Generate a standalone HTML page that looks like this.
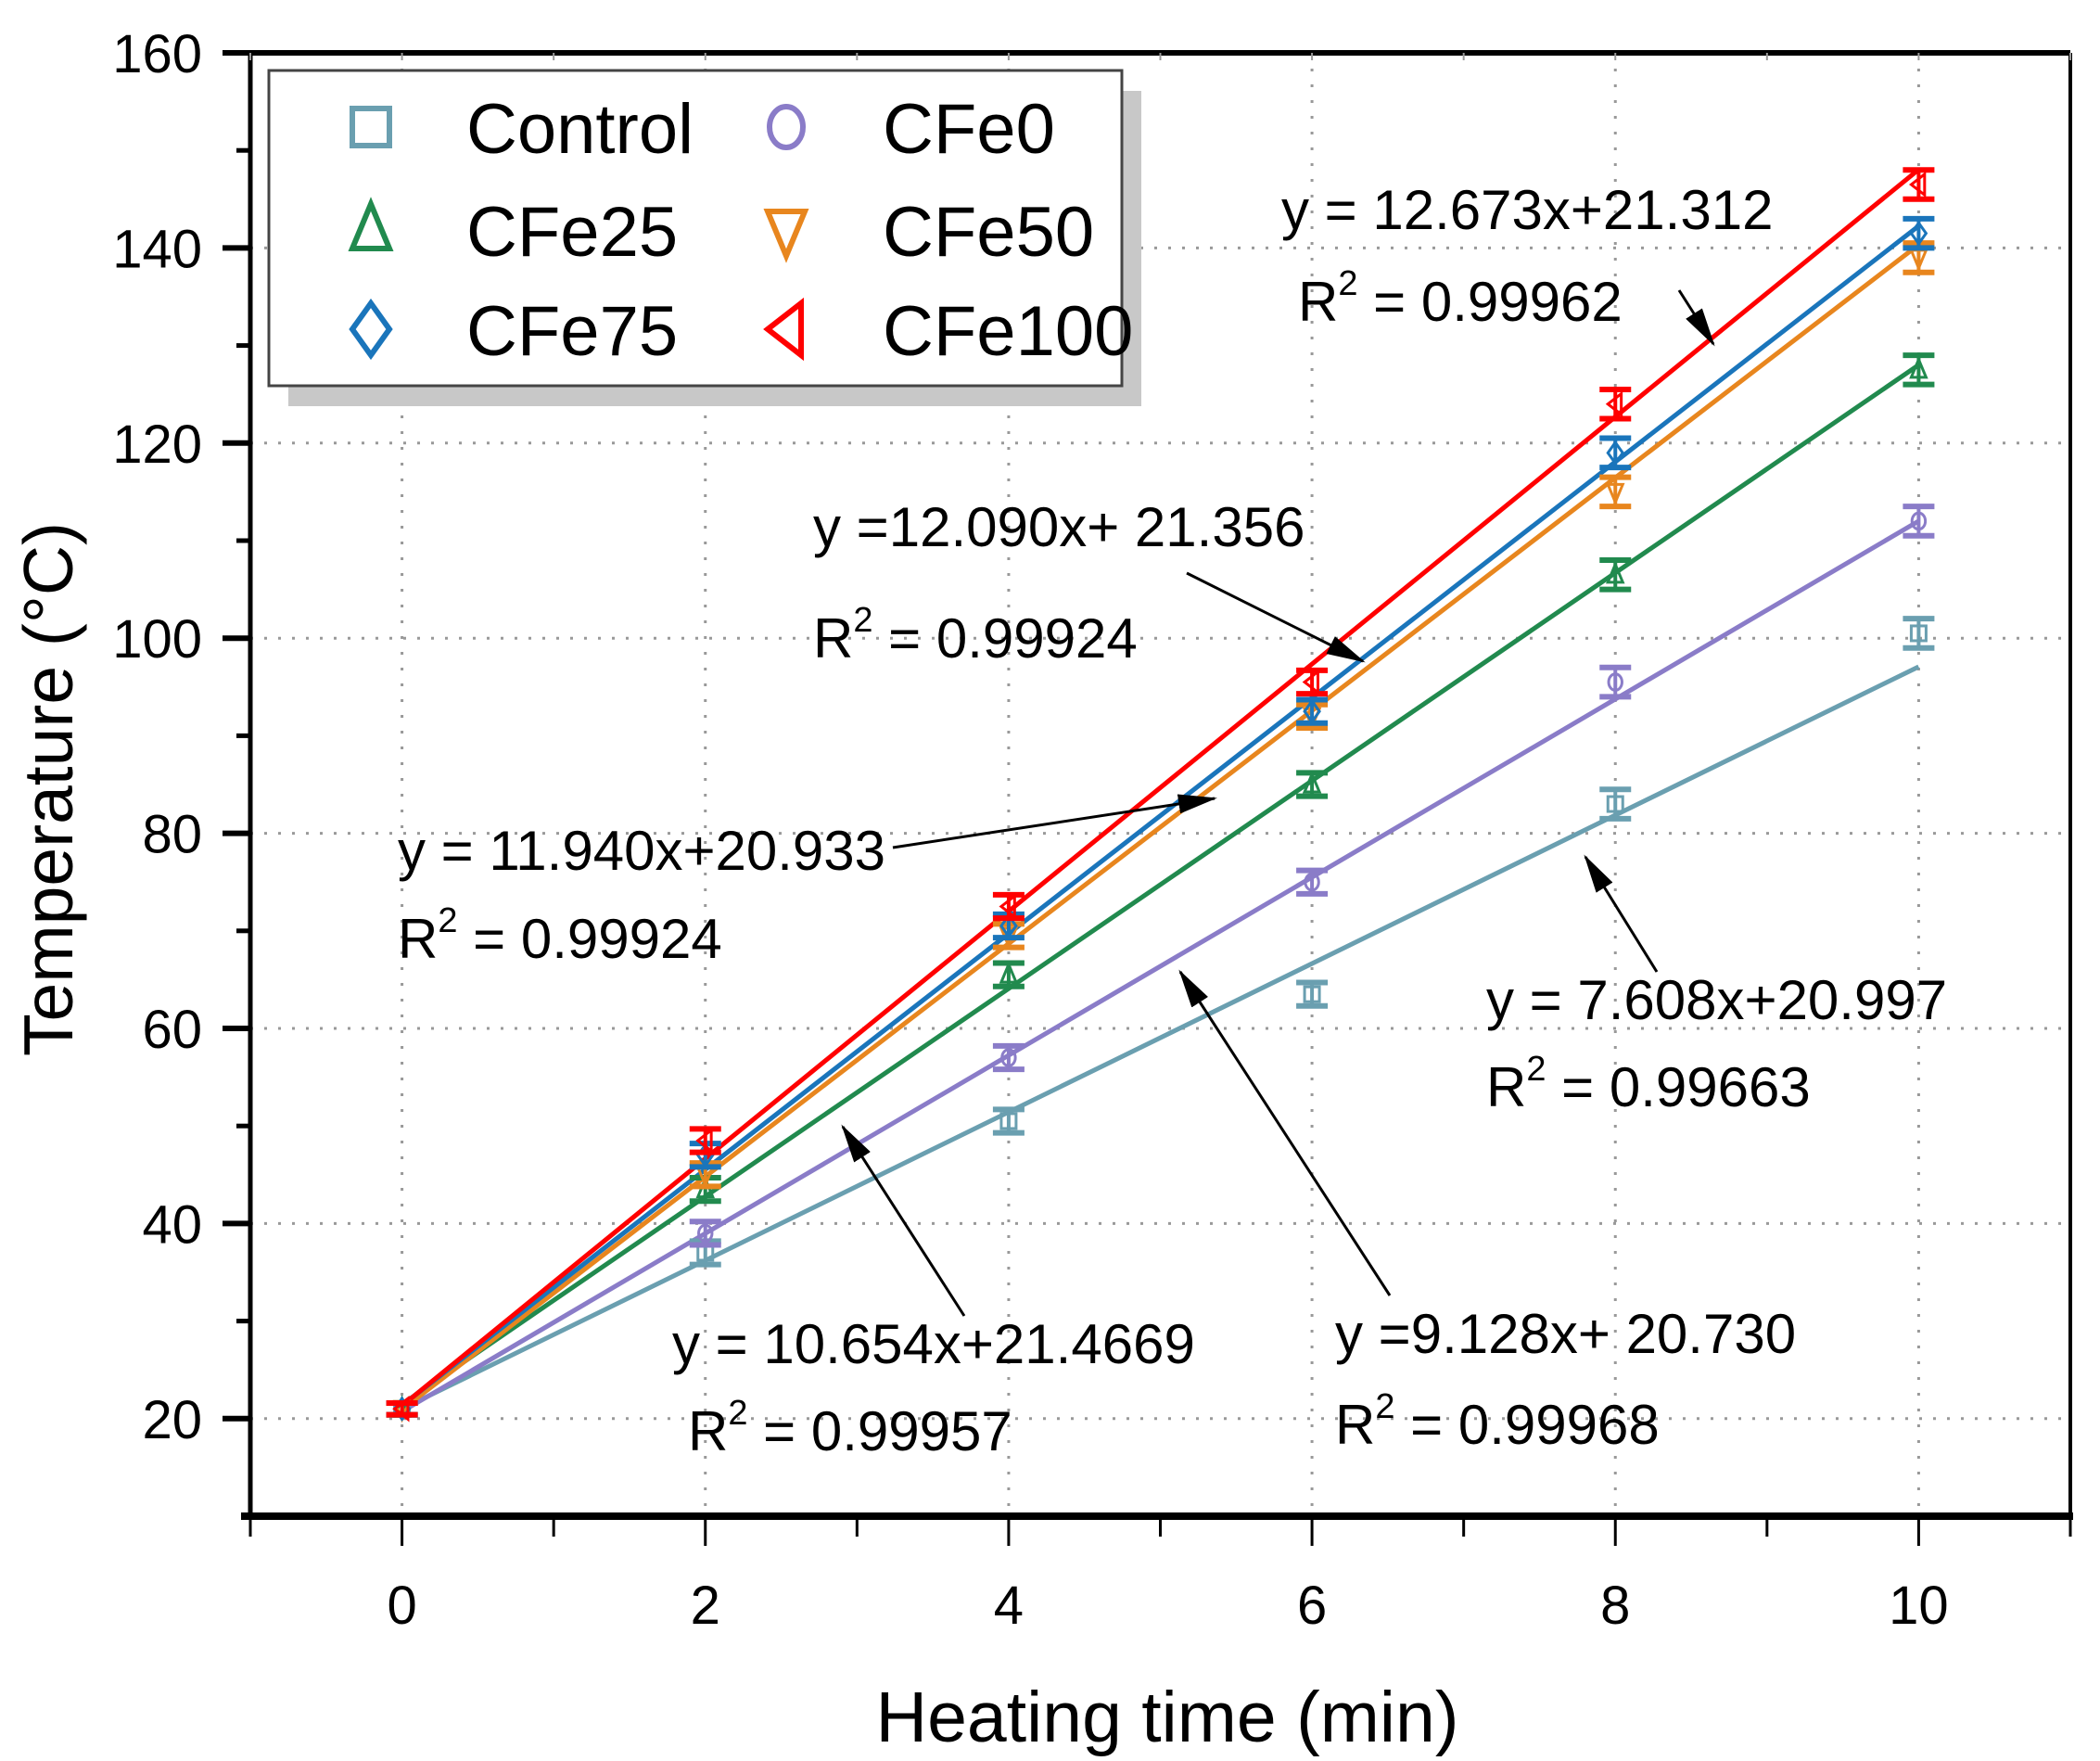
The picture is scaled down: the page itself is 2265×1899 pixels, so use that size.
<!DOCTYPE html>
<html><head><meta charset="utf-8"><style>
html,body{margin:0;padding:0;background:#fff;}
svg{display:block;font-family:"Liberation Sans",sans-serif;}
</style></head><body>
<svg id="chart" width="2265" height="1899" viewBox="0 0 2265 1899" xmlns="http://www.w3.org/2000/svg">
<defs><marker id="ah" markerWidth="14" markerHeight="7" refX="13" refY="3.5" orient="auto" markerUnits="strokeWidth"><path d="M0,0 L14,3.5 L0,7 z" fill="#000"/></marker></defs>
<g id="grid"></g>
<g id="fits"></g>
<g id="pts"></g>
<g id="axes"></g>
<g id="ann"></g>
<g id="legend"></g>
<text x="0" y="0" transform="translate(78,851) rotate(-90)" font-size="75" text-anchor="middle">Temperature (°C)</text>
<text x="1259" y="1878" font-size="77" text-anchor="middle">Heating time (min)</text>
</svg>
<script>
const times=[0,2,4,6,8,10];
const seriesNames=["Control","CFe0","CFe25","CFe50","CFe75","CFe100"];
const control=[21,37,50.5,63.5,83,100.5];
const cfe0=[21,39,57,75,95.5,112];
const cfe25=[21,43.5,65.5,85,106.5,127.5];
const cfe50=[21,45,69.5,92,115,139];
const cfe75=[21,47,70.5,92.5,119,141.5];
const cfe100=[21,48.5,72.5,95.5,124,146.5];
const errs=[0.6,1.2,1.2,1.2,1.5,1.5];
const slopes=[7.608,9.128,10.654,11.940,12.090,12.673];
const intercepts=[20.997,20.730,21.4669,20.933,21.356,21.312];
const xTicks=[0,2,4,6,8,10];
const yTicks=[20,40,60,80,100,120,140,160];
const colors=["#6a9fb0","#8a7cc8","#218a4e","#e8861e","#1a75bb","#ff0000"];
const allVals=[control,cfe0,cfe25,cfe50,cfe75,cfe100];
const NS="http://www.w3.org/2000/svg";
const L=270,R=2233,T=57,B=1635,xmin=-1,xmax=11,ymin=10,ymax=160;
const X=v=>L+(v-xmin)/(xmax-xmin)*(R-L);
const Y=v=>B-(v-ymin)/(ymax-ymin)*(B-T);
function mk(p,tag,a){const e=document.createElementNS(NS,tag);for(const k in a)e.setAttribute(k,a[k]);p.appendChild(e);return e;}
const grid=document.getElementById('grid');
xTicks.forEach(t=>{const l=mk(grid,'line',{x1:X(t),x2:X(t),y1:T,y2:B,stroke:'#999','stroke-width':3,'stroke-dasharray':'3 14'});

});
yTicks.forEach(t=>{const l=mk(grid,'line',{x1:L,x2:R,y1:Y(t),y2:Y(t),stroke:'#999','stroke-width':3,'stroke-dasharray':'3 12'});

});
const fits=document.getElementById('fits');
slopes.forEach((s,i)=>{const l=mk(fits,'line',{x1:X(0),y1:Y(intercepts[i]),x2:X(10),y2:Y(intercepts[i]+s*10),stroke:colors[i],'stroke-width':5});

});
function marker(p,i,cx,cy,s){const c=colors[i],a={fill:'none',stroke:c,'stroke-width':3};
if(i==0)return mk(p,'rect',Object.assign({x:cx-s,y:cy-s,width:2*s,height:2*s},a));
if(i==1)return mk(p,'ellipse',Object.assign({cx:cx,cy:cy,rx:s*0.9,ry:s*1.1},a));
if(i==2)return mk(p,'polygon',Object.assign({points:`${cx},${cy-1.4*s} ${cx-s},${cy+s} ${cx+s},${cy+s}`},a));
if(i==3)return mk(p,'polygon',Object.assign({points:`${cx-s},${cy-s} ${cx+s},${cy-s} ${cx},${cy+1.4*s}`},a));
if(i==4)return mk(p,'polygon',Object.assign({points:`${cx},${cy-1.4*s} ${cx+s},${cy} ${cx},${cy+1.4*s} ${cx-s},${cy}`},a));
return mk(p,'polygon',Object.assign({points:`${cx-s},${cy} ${cx+s*0.8},${cy-1.4*s} ${cx+s*0.8},${cy+1.4*s}`},a));}
const pts=document.getElementById('pts');
allVals.forEach((vals,i)=>{vals.forEach((v,j)=>{const g=mk(pts,'g',{});


const x=X(times[j]),y1=Y(v+errs[j]),y2=Y(v-errs[j]);
mk(g,'line',{x1:x,x2:x,y1:y1,y2:y2,stroke:colors[i],'stroke-width':4});
mk(g,'line',{x1:x-17,x2:x+17,y1:y1,y2:y1,stroke:colors[i],'stroke-width':6});
mk(g,'line',{x1:x-17,x2:x+17,y1:y2,y2:y2,stroke:colors[i],'stroke-width':6});
marker(g,i,x,Y(v),8);});});
const ax=document.getElementById('axes');
mk(ax,'line',{x1:240,x2:R,y1:T,y2:T,stroke:'#000','stroke-width':6});
mk(ax,'line',{x1:260,x2:R+3,y1:B,y2:B,stroke:'#000','stroke-width':8});
mk(ax,'line',{x1:L,x2:L,y1:T,y2:B,stroke:'#000','stroke-width':5});
mk(ax,'line',{x1:R,x2:R,y1:T,y2:B,stroke:'#000','stroke-width':4});
yTicks.forEach(t=>{mk(ax,'line',{x1:240,x2:L,y1:Y(t),y2:Y(t),stroke:'#000','stroke-width':6});
const tx=mk(ax,'text',{x:218,y:Y(t)+21,'font-size':58,'text-anchor':'end'});tx.textContent=t;

});
for(let t=30;t<=150;t+=20){mk(ax,'line',{x1:255,x2:L,y1:Y(t),y2:Y(t),stroke:'#000','stroke-width':5});}
for(let t=-1;t<=11;t++){const maj=t%2==0;mk(ax,'line',{x1:X(t),x2:X(t),y1:B,y2:B+(maj?32:22),stroke:'#000','stroke-width':3});
mk(ax,'line',{x1:X(t),x2:X(t),y1:T,y2:T+8,stroke:'#999','stroke-width':2});}
xTicks.forEach(t=>{const tx=mk(ax,'text',{x:X(t),y:1751,'font-size':58,'text-anchor':'middle'});tx.textContent=t;

});
const ann=document.getElementById('ann');
const eqs=[["y = 12.673x+21.312","0.99962",1382,247,1400,346,1811,313,1848,371],
["y =12.090x+ 21.356","0.99924",877,589,877,709,1280,618,1470,713],
["y = 11.940x+20.933","0.99924",429,938,429,1033,963,914,1310,861],
["y = 7.608x+20.997","0.99663",1603,1099,1603,1193,1787,1048,1710,924],
["y = 10.654x+21.4669","0.99957",725,1470,742,1564,1040,1419,909,1215],
["y =9.128x+ 20.730","0.99968",1440,1459,1440,1557,1499,1397,1273,1048]];
eqs.forEach(e=>{const g=mk(ann,'g',{});


const t1=mk(g,'text',{x:e[2],y:e[3],'font-size':60});t1.textContent=e[0];
const t2=mk(g,'text',{x:e[4],y:e[5],'font-size':60});t2.innerHTML='R<tspan dy="-28" font-size="38">2</tspan><tspan dy="28"> = '+e[1]+'</tspan>';
mk(g,'line',{x1:e[6],y1:e[7],x2:e[8],y2:e[9],stroke:'#000','stroke-width':3,'marker-end':'url(#ah)'});});
const lg=document.getElementById('legend');
mk(lg,'rect',{x:311,y:98,width:920,height:340,fill:'#c8c8c8'});
mk(lg,'rect',{x:290,y:76,width:920,height:340,fill:'#fff',stroke:'#444','stroke-width':3});
const order=[[0,0],[1,1],[2,0],[3,1],[4,0],[5,1]];
const rowsY=[137,248,355];
order.forEach((o,k)=>{const i=o[0],col=o[1],row=Math.floor(k/2);const g=mk(lg,'g',{});


const el=marker(g,i,col?848:400,rowsY[row],20);el.setAttribute('stroke-width',6);
const t=mk(g,'text',{x:col?952:503,y:rowsY[row]+28,'font-size':76});t.textContent=seriesNames[i];});
</script>
</body></html>
